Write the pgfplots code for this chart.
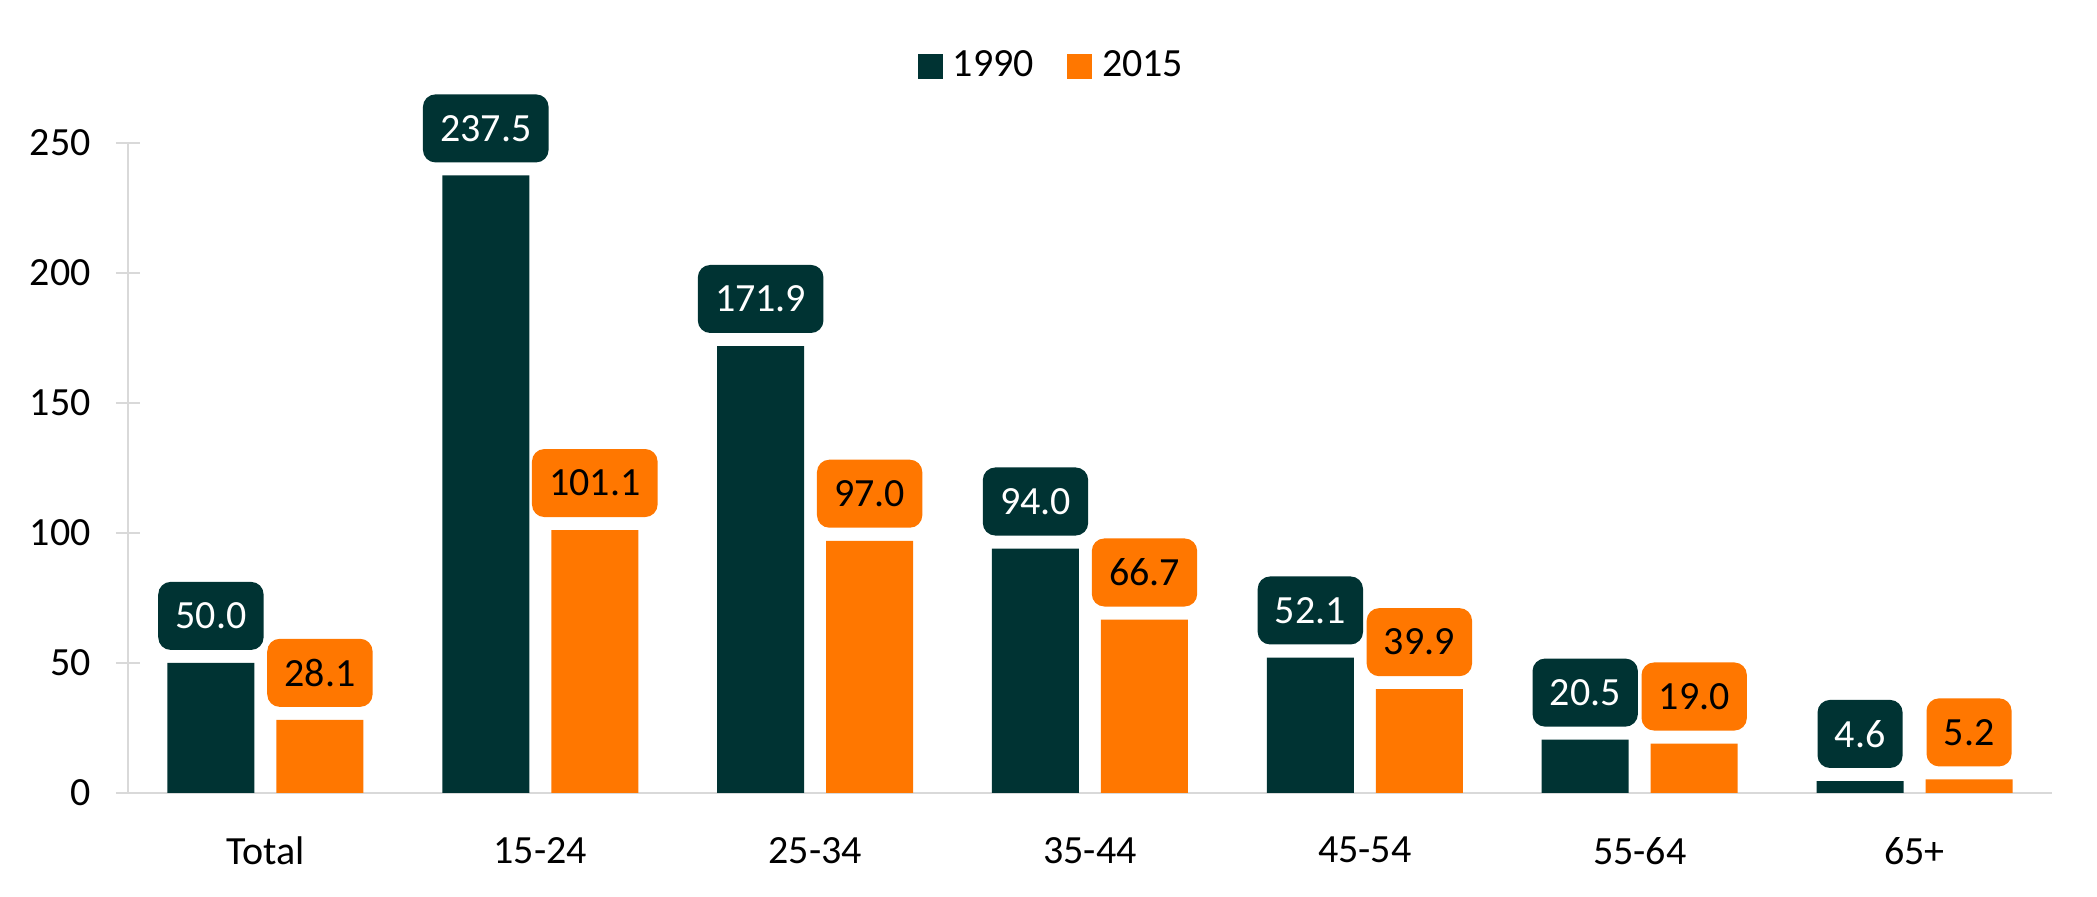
\documentclass[border=0pt]{standalone}
\usepackage{fontspec}
\setmainfont{Carlito}
\usepackage{pgfplots}
\pgfplotsset{compat=1.18}

\definecolor{dark}{RGB}{0,51,51}
\definecolor{orng}{RGB}{255,119,0}
\definecolor{axgray}{RGB}{217,217,217}

\begin{document}
\fontsize{14.4}{17}\selectfont
\begin{tikzpicture}
\useasboundingbox (0,0) rectangle (754.92pt,322.92pt);
\begin{axis}[
    at={(46.08pt,37.44pt)}, anchor=south west,
    scale only axis,
    width=692.64pt, height=234pt,
    ybar,
    bar width=31.32pt,
    xmin=-0.5, xmax=6.5,
    ymin=0, ymax=250,
    ytick={0,50,100,150,200,250},
    xtick=data,
    xticklabels={Total,15-24,25-34,35-44,45-54,55-64,65+},
    separate axis lines,
    axis x line*=bottom,
    axis y line*=left,
    axis line style={axgray, line width=1pt},
    xtick style={draw=none},
    ytick style={axgray, line width=1pt},
    tick align=center,
    major tick length=8.8pt,
    yticklabel style={xshift=-4pt},
    xticklabel style={yshift=-6.5pt},
    /pgf/number format/assume math mode=true,
    ticklabel style={font=\fontsize{14.4}{17}\selectfont},
    clip=false,
    point meta=y,
    nodes near coords,
    nodes near coords style={
        /pgf/number format/fixed,
        /pgf/number format/precision=1,
        /pgf/number format/fixed zerofill,
        /pgf/number format/assume math mode=true,
        font=\fontsize{14.4}{17}\selectfont,
        anchor=south, yshift=4.5pt,
        rounded corners=4.5pt,
        inner xsep=6.2pt,
        minimum height=24.5pt,
    },
    legend columns=2,
    legend style={draw=none, fill=none, at={(0.481,1.118)}, anchor=center,
        font=\fontsize{14.4}{17}\selectfont,
        /tikz/every even column/.append style={column sep=10pt}},
    legend image code/.code={\fill[#1] (0pt,-4.5pt) rectangle (9pt,4.5pt);},
]
\addplot[fill=dark, draw=none, bar shift=-19.62pt,
    nodes near coords style={fill=dark, text=white}]
    coordinates {(0,50.0)(1,237.5)(2,171.9)(3,94.0)(4,52.1)(5,20.5)(6,4.6)};
\addlegendentry{\hspace{1.5pt}1990}
\addplot[fill=orng, draw=none, bar shift=19.62pt,
    nodes near coords style={fill=orng, text=black}]
    coordinates {(0,28.1)(1,101.1)(2,97.0)(3,66.7)(4,39.9)(5,19.0)(6,5.2)};
\addlegendentry{\hspace{1.5pt}2015}
\end{axis}
\end{tikzpicture}
\end{document}
